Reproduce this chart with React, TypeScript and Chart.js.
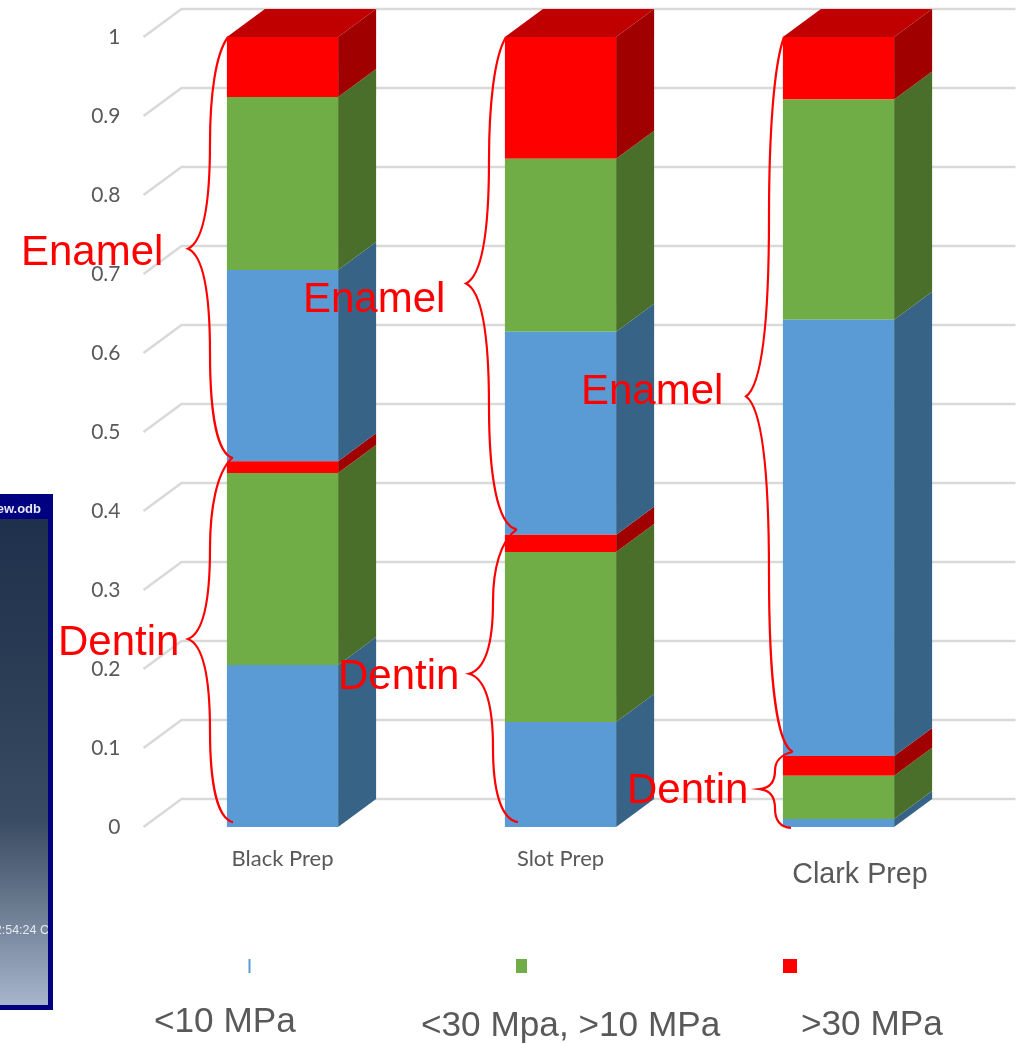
import React, { useEffect, useRef } from "react";
import { Chart, registerables } from "chart.js";

Chart.register(...registerables);

const categories = ["Black Prep", "Slot Prep", "Clark Prep"];
const dentinLow = [0.205, 0.133, 0.01];
const dentinMid = [0.243, 0.215, 0.055];
const dentinHigh = [0.015, 0.022, 0.025];
const enamelLow = [0.242, 0.257, 0.552];
const enamelMid = [0.219, 0.219, 0.279];
const enamelHigh = [0.076, 0.154, 0.079];
const legendLabels = ["<10 MPa", "<30 Mpa, >10 MPa", ">30 MPa"];

const BLUE = "#5b9bd5";
const GREEN = "#70ad47";
const RED = "#ff0000";
const SIDE: Record<string, string> = { [BLUE]: "#376387", [GREEN]: "#4a6f2b", [RED]: "#a00000" };
const TOP = "#c00000";
const DX = 38;
const DY = -28;
const GREY = "#595959";

// annotation layout: brace x-positions, value ranges; text anchor
const braces = [
  { tip: 188, spine: 210, endA: 228, endB: 233, from: 1, to: 0.467, mid: 0.732, label: "Enamel", tx: 21, ty: 265 },
  { tip: 188, spine: 210, endA: 232, endB: 233, from: 0.467, to: 0.006, mid: 0.238, label: "Dentin", tx: 58, ty: 655 },
  { tip: 466, spine: 489, endA: 506, endB: 516, from: 1, to: 0.377, mid: 0.688, label: "Enamel", tx: 303, ty: 312 },
  { tip: 469, spine: 493, endA: 517, endB: 518, from: 0.377, to: 0.006, mid: 0.194, label: "Dentin", tx: 338, ty: 689 },
  { tip: 746, spine: 769, endA: 784, endB: 793, from: 1, to: 0.095, mid: 0.545, label: "Enamel", tx: 581, ty: 404 },
  { tip: 760, spine: 775, endA: 792, endB: 791, from: 0.095, to: -0.001, mid: 0.048, label: "Dentin", tx: 627, ty: 803 },
];

const ThreeD = {
  id: "threeD",
  beforeDatasetsDraw(chart: any) {
    const { ctx } = chart;
    const yS = chart.scales.y;
    const area = chart.chartArea;
    ctx.save();
    ctx.strokeStyle = "#d9d9d9";
    ctx.lineWidth = 2.5;
    yS.ticks.forEach((t: any) => {
      const y = yS.getPixelForValue(t.value);
      ctx.beginPath();
      ctx.moveTo(area.left, y);
      ctx.lineTo(area.left + DX, y + DY);
      ctx.lineTo(area.right + DX, y + DY);
      ctx.stroke();
    });
    chart.data.datasets.forEach((ds: any, i: number) => {
      const meta = chart.getDatasetMeta(i);
      meta.data.forEach((b: any) => {
        const r = b.x + b.width / 2;
        const l = b.x - b.width / 2;
        ctx.fillStyle = SIDE[ds.backgroundColor];
        ctx.beginPath();
        ctx.moveTo(r, b.y);
        ctx.lineTo(r + DX, b.y + DY);
        ctx.lineTo(r + DX, b.base + DY);
        ctx.lineTo(r, b.base);
        ctx.closePath();
        ctx.fill();
        if (i === chart.data.datasets.length - 1) {
          ctx.fillStyle = TOP;
          ctx.beginPath();
          ctx.moveTo(l, b.y);
          ctx.lineTo(l + DX, b.y + DY);
          ctx.lineTo(r + DX, b.y + DY);
          ctx.lineTo(r, b.y);
          ctx.closePath();
          ctx.fill();
        }
      });
    });
    ctx.restore();
  },
};

const Overlay = {
  id: "overlay",
  beforeDraw(chart: any) {
    const { ctx } = chart;
    ctx.save();
    ctx.fillStyle = "#000080";
    ctx.fillRect(0, 494, 53, 516);
    const g = ctx.createLinearGradient(0, 519, 0, 1005);
    g.addColorStop(0, "#1f304c");
    g.addColorStop(0.37, "#2c3f56");
    g.addColorStop(0.62, "#3a4c63");
    g.addColorStop(0.78, "#65758a");
    g.addColorStop(1, "#a7b5cd");
    ctx.fillStyle = g;
    ctx.fillRect(0, 519, 48, 486);
    ctx.font = "bold 13px 'Liberation Sans'";
    ctx.fillStyle = "#e8e8f0";
    ctx.textAlign = "right";
    ctx.textBaseline = "alphabetic";
    ctx.fillText("ew.odb", 41, 513);
    ctx.beginPath();
    ctx.rect(0, 900, 48, 60);
    ctx.clip();
    ctx.font = "12.5px 'Liberation Sans'";
    ctx.fillStyle = "#e6e9ef";
    ctx.fillText("2:54:24 C", 49, 934);
    ctx.restore();
  },
  afterDatasetsDraw(chart: any) {
    const { ctx } = chart;
    const yS = chart.scales.y;
    ctx.save();
    ctx.strokeStyle = RED;
    ctx.lineWidth = 2.2;
    braces.forEach((b) => {
      const y0 = yS.getPixelForValue(b.from);
      const y1 = yS.getPixelForValue(b.to);
      const ym = yS.getPixelForValue(b.mid);
      const ht = ym - y0;
      const hb = y1 - ym;
      const notch = (b.spine - b.tip) * 0.35;
      ctx.beginPath();
      ctx.moveTo(b.endA, y0);
      ctx.bezierCurveTo(b.spine + (b.endA - b.spine) * 0.3, y0 + ht * 0.08, b.spine, y0 + ht * 0.28, b.spine, y0 + ht * 0.5);
      ctx.bezierCurveTo(b.spine, ym - ht * 0.2, b.spine - notch, ym - ht * 0.03, b.tip, ym);
      ctx.bezierCurveTo(b.spine - notch, ym + hb * 0.03, b.spine, ym + hb * 0.2, b.spine, y1 - hb * 0.5);
      ctx.bezierCurveTo(b.spine, y1 - hb * 0.22, b.spine + (b.endB - b.spine) * 0.3, y1 - hb * 0.02, b.endB, y1);
      ctx.stroke();
    });
    ctx.fillStyle = RED;
    ctx.font = "42px 'Liberation Sans'";
    ctx.textAlign = "left";
    ctx.textBaseline = "alphabetic";
    braces.forEach((b) => ctx.fillText(b.label, b.tx, b.ty));
    ctx.fillStyle = GREY;
    ctx.font = "28.7px 'Liberation Sans'";
    ctx.textAlign = "center";
    ctx.fillText(categories[2], 860, 883);
    ctx.fillStyle = BLUE;
    ctx.fillRect(248.5, 959, 2, 14);
    ctx.fillStyle = GREEN;
    ctx.fillRect(516, 959, 11, 14);
    ctx.fillStyle = RED;
    ctx.fillRect(783, 959, 14, 14);
    ctx.fillStyle = GREY;
    ctx.font = "35.2px 'Liberation Sans'";
    ctx.textAlign = "left";
    ctx.fillText(legendLabels[0], 154, 1032);
    ctx.fillText(legendLabels[1], 421, 1036);
    ctx.fillText(legendLabels[2], 801, 1035);
    ctx.restore();
  },
};

export default function App() {
  const ref = useRef<HTMLCanvasElement>(null);
  useEffect(() => {
    const chart = new Chart(ref.current!, {
      type: "bar",
      data: {
        labels: categories,
        datasets: [
          { label: legendLabels[0], data: dentinLow, backgroundColor: BLUE },
          { label: legendLabels[1], data: dentinMid, backgroundColor: GREEN },
          { label: legendLabels[2], data: dentinHigh, backgroundColor: RED },
          { label: legendLabels[0] + " (enamel)", data: enamelLow, backgroundColor: BLUE },
          { label: legendLabels[1] + " (enamel)", data: enamelMid, backgroundColor: GREEN },
          { label: legendLabels[2] + " (enamel)", data: enamelHigh, backgroundColor: RED },
        ].map((d) => ({ ...d, barPercentage: 0.4, categoryPercentage: 1, clip: false as any })),
      },
      options: {
        responsive: false,
        animation: false,
        layout: { padding: { top: 37, right: 45.5, left: 0, bottom: 0 } },
        plugins: { legend: { display: false }, tooltip: { enabled: false } },
        scales: {
          x: {
            stacked: true,
            grid: { display: false },
            border: { display: false },
            afterFit: (s: any) => {
              s.height = 217;
            },
            ticks: {
              color: GREY,
              padding: 11,
              maxRotation: 0,
              font: { family: "Lato", size: 22 },
              callback: (_v: any, i: number) => (i < 2 ? categories[i] : ""),
            },
          },
          y: {
            stacked: true,
            min: 0,
            max: 1,
            grid: { display: false },
            border: { display: false },
            afterFit: (s: any) => {
              s.width = 143.5;
            },
            ticks: {
              stepSize: 0.1,
              color: GREY,
              padding: 15,
              font: { family: "Lato", size: 21 },
              callback: (v: any) => String(+Number(v).toFixed(1)),
            },
          },
        },
      },
      plugins: [ThreeD, Overlay],
    } as any);
    return () => chart.destroy();
  }, []);
  return (
    <div style={{ position: "absolute", left: 0, top: 0, width: 1023, height: 1044, overflow: "hidden", background: "#fff" }}>
      <canvas ref={ref} width={1023} height={1044} style={{ display: "block" }} />
    </div>
  );
}
